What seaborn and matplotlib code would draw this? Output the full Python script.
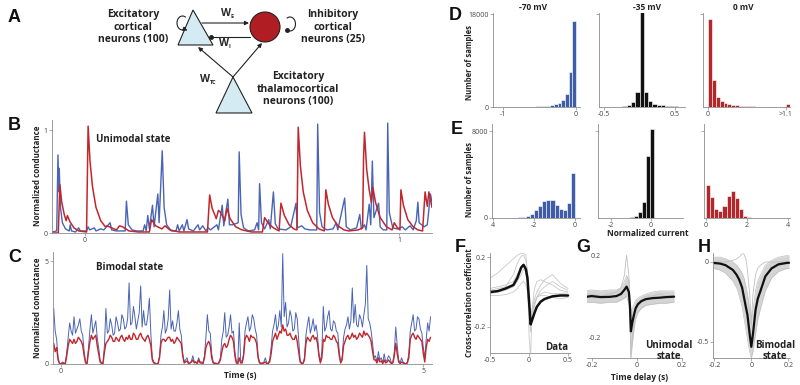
import numpy as np
import pandas as pd
import matplotlib.pyplot as plt
import seaborn as sns
from matplotlib.patches import Polygon, Circle, FancyArrowPatch, Arc

sns.set_theme(style="ticks")
plt.rcParams['font.family'] = ['Open Sans', 'DejaVu Sans']

W, H = 800, 385
BLUE = '#4a64b4'
RED = '#c1272d'
GREY = '#8c8c8c'

# ---------------- data ----------------
# B: unimodal state, (time s, normalized conductance)
b_blue = [(-0.105, 0.01), (-0.090, 0.02), (-0.086, 0.76), (-0.083, 0.40), (-0.082, 0.63), (-0.078, 0.25),
          (-0.072, 0.10), (-0.062, 0.04), (-0.050, 0.02), (-0.047, 0.08), (-0.043, 0.02), (-0.030, 0.01),
          (-0.020, 0.05), (-0.015, 0.02), (0.005, 0.02), (0.010, 0.06), (0.015, 0.03), (0.030, 0.05),
          (0.035, 0.02), (0.050, 0.04), (0.060, 0.03), (0.080, 0.10), (0.085, 0.03), (0.100, 0.02),
          (0.128, 0.02), (0.132, 0.31), (0.138, 0.08), (0.150, 0.03), (0.165, 0.02), (0.185, 0.02),
          (0.190, 0.08), (0.195, 0.02), (0.200, 0.17), (0.205, 0.04), (0.215, 0.27), (0.220, 0.06),
          (0.232, 0.38), (0.236, 0.10), (0.246, 0.80), (0.252, 0.25), (0.260, 0.08), (0.275, 0.02),
          (0.290, 0.02), (0.295, 0.08), (0.300, 0.02), (0.310, 0.08), (0.315, 0.02), (0.325, 0.13),
          (0.330, 0.04), (0.345, 0.02), (0.360, 0.08), (0.365, 0.03), (0.375, 0.07), (0.385, 0.02),
          (0.392, 0.05), (0.400, 0.03), (0.420, 0.08), (0.425, 0.03), (0.437, 0.27), (0.442, 0.07),
          (0.455, 0.33), (0.460, 0.08), (0.470, 0.08), (0.488, 0.10), (0.491, 0.79), (0.497, 0.18),
          (0.505, 0.05), (0.520, 0.02), (0.540, 0.03), (0.548, 0.10), (0.553, 0.03), (0.556, 0.48),
          (0.562, 0.10), (0.572, 0.04), (0.585, 0.13), (0.590, 0.04), (0.600, 0.40), (0.606, 0.09),
          (0.615, 0.04), (0.640, 0.03), (0.655, 0.06), (0.672, 0.29), (0.676, 0.05), (0.690, 0.07),
          (0.700, 0.04), (0.715, 0.03), (0.738, 0.03), (0.741, 1.06), (0.747, 0.20), (0.755, 0.06),
          (0.770, 0.03), (0.790, 0.04), (0.800, 0.10), (0.805, 0.03), (0.827, 0.34), (0.832, 0.06),
          (0.845, 0.03), (0.865, 0.05), (0.875, 0.18), (0.880, 0.04), (0.890, 0.08), (0.895, 0.03),
          (0.905, 0.28), (0.910, 0.08), (0.915, 0.70), (0.920, 0.15), (0.935, 0.29), (0.940, 0.06),
          (0.950, 0.03), (0.961, 0.03), (0.964, 1.07), (0.969, 0.20), (0.980, 0.05), (0.995, 0.04),
          (1.010, 0.06), (1.020, 0.03), (1.035, 0.07), (1.045, 0.03), (1.055, 0.12), (1.060, 0.30),
          (1.064, 0.10), (1.080, 0.06), (1.090, 0.08), (1.100, 0.38), (1.105, 0.30)]
b_red = [(-0.105, 0.0), (-0.085, 0.0), (-0.080, 0.47), (-0.074, 0.30), (-0.066, 0.18), (-0.060, 0.12),
         (-0.056, 0.17), (-0.048, 0.11), (-0.035, 0.05), (-0.020, 0.02), (0.005, 0.01), (0.010, 1.04),
         (0.016, 0.70), (0.024, 0.45), (0.035, 0.25), (0.050, 0.12), (0.065, 0.06), (0.070, 0.07),
         (0.085, 0.05), (0.100, 0.03), (0.110, 0.07), (0.120, 0.06), (0.140, 0.02), (0.170, 0.01),
         (0.205, 0.01), (0.212, 0.13), (0.225, 0.07), (0.245, 0.04), (0.255, 0.07), (0.270, 0.03),
         (0.300, 0.01), (0.390, 0.01), (0.397, 0.37), (0.405, 0.24), (0.418, 0.14), (0.425, 0.22),
         (0.432, 0.20), (0.445, 0.12), (0.452, 0.24), (0.462, 0.14), (0.480, 0.06), (0.500, 0.03),
         (0.530, 0.01), (0.565, 0.01), (0.572, 0.15), (0.585, 0.09), (0.600, 0.05), (0.618, 0.02),
         (0.624, 0.29), (0.635, 0.17), (0.650, 0.08), (0.665, 0.04), (0.675, 0.03), (0.679, 1.03),
         (0.686, 0.65), (0.695, 0.40), (0.708, 0.22), (0.725, 0.10), (0.745, 0.04), (0.762, 0.02),
         (0.767, 0.42), (0.775, 0.28), (0.788, 0.15), (0.805, 0.07), (0.825, 0.03), (0.840, 0.02),
         (0.870, 0.03), (0.884, 0.05), (0.887, 0.72), (0.890, 0.98), (0.897, 0.62), (0.905, 0.42),
         (0.912, 0.30), (0.917, 0.44), (0.925, 0.30), (0.940, 0.15), (0.960, 0.06), (0.978, 0.03),
         (0.985, 0.10), (0.995, 0.05), (1.003, 0.03), (1.006, 0.42), (1.014, 0.27), (1.028, 0.13),
         (1.045, 0.06), (1.060, 0.03), (1.075, 0.02), (1.083, 0.40), (1.090, 0.26), (1.095, 0.40),
         (1.105, 0.25)]

# C: bimodal state, sampled every 20 ms from t = -0.1 s
c_t0, c_dt = -0.10, 0.02
c_blue = [2.7, 1.6, 1.2, 0.3, 0.05, 0.0, 0.1, 0.05, 0.05, 0.6,
          1.3, 2.0, 1.6, 1.4, 2.3, 1.5, 1.7, 1.9, 2.2, 1.6,
          1.4, 0.6, 0.1, 0.05, 0.8, 1.7, 2.4, 1.5, 1.8, 2.1,
          1.3, 0.8, 0.2, 0.05, 0.05, 0.9, 2.7, 1.5, 1.6, 2.2,
          1.9, 1.4, 1.5, 2.3, 2.0, 1.6, 1.7, 2.4, 2.2, 1.7,
          1.8, 2.2, 3.95, 1.9, 2.0, 2.8, 2.3, 1.7, 2.1, 2.5,
          3.8, 1.8, 2.6, 1.9, 1.9, 2.4, 3.2, 1.5, 0.3, 0.1,
          0.05, 0.0, 0.05, 0.4, 1.4, 1.8, 2.6, 1.5, 1.7, 2.2,
          3.6, 1.7, 2.1, 1.6, 1.6, 2.0, 2.6, 1.7, 1.4, 0.5,
          0.1, 0.2, 0.3, 0.05, 0.05, 0.15, 0.4, 0.1, 0.1, 0.05,
          0.3, 0.1, 0.1, 0.05, 0.4, 1.3, 2.4, 1.6, 1.5, 0.5,
          0.1, 0.05, 0.05, 0.0, 0.1, 0.3, 1.2, 1.6, 2.5, 1.3,
          1.4, 1.8, 2.4, 1.5, 1.6, 0.6, 0.1, 0.05, 2.0, 0.2,
          0.1, 0.5, 1.6, 2.0, 2.3, 1.6, 1.8, 2.4, 2.2, 1.7,
          1.4, 0.4, 0.1, 0.05, 0.05, 0.1, 0.3, 0.05, 0.05, 0.2,
          0.8, 1.6, 1.9, 2.4, 1.6, 1.9, 2.6, 1.8, 5.37, 2.3,
          3.0, 1.8, 2.0, 2.6, 2.3, 1.6, 1.7, 2.5, 2.2, 1.2,
          0.2, 0.05, 0.05, 0.3, 1.4, 1.9, 2.3, 1.5, 1.8, 2.2,
          1.6, 1.9, 1.4, 0.5, 0.1, 0.6, 2.8, 1.6, 1.8, 2.3,
          2.6, 1.7, 1.6, 2.1, 2.0, 1.6, 1.5, 0.6, 0.1, 0.3,
          1.3, 1.7, 1.9, 2.3, 1.7, 2.1, 3.7, 2.0, 2.9, 1.9,
          1.8, 2.4, 2.2, 1.8, 2.4, 2.9, 4.8, 2.2, 2.0, 1.6,
          1.0, 0.3, 0.4, 0.1, 0.6, 0.2, 0.3, 0.05, 0.5, 0.1,
          0.2, 0.4, 0.3, 0.05, 0.1, 0.6, 1.8, 0.9, 0.2, 0.05,
          0.3, 0.1, 0.05, 0.0, 0.1, 0.5, 1.6, 2.0, 2.4, 1.6,
          1.7, 2.3, 2.2, 1.7, 1.5, 0.8, 0.3, 1.2, 2.0, 1.6,
          2.3]
c_red = [1.0, 0.6, 0.8, 0.2, 0.02, 0.0, 0.05, 0.02, 0.02, 0.4,
         0.9, 1.2, 1.1, 1.0, 1.2, 1.0, 1.1, 1.3, 1.2, 1.1,
         0.9, 0.4, 0.05, 0.02, 0.6, 1.1, 1.4, 1.2, 1.3, 1.4,
         0.9, 0.5, 0.1, 0.02, 0.02, 0.6, 1.0, 1.1, 1.2, 1.4,
         1.3, 1.1, 1.1, 1.3, 1.2, 1.1, 1.3, 1.4, 1.2, 1.1,
         1.3, 1.2, 1.4, 1.2, 1.2, 1.5, 1.4, 1.2, 1.2, 1.4,
         1.5, 1.3, 1.2, 1.1, 1.3, 1.4, 1.2, 0.9, 0.2, 0.05,
         0.02, 0.0, 0.02, 0.3, 1.0, 1.2, 1.2, 1.1, 1.2, 1.3,
         1.3, 1.1, 1.2, 1.0, 1.1, 1.3, 1.2, 1.1, 1.0, 0.4,
         0.05, 0.1, 0.15, 0.02, 0.05, 0.1, 0.2, 0.05, 0.1, 0.02,
         0.2, 0.05, 0.05, 0.02, 0.3, 0.8, 1.0, 1.1, 0.9, 0.3,
         0.05, 0.02, 0.02, 0.0, 0.05, 0.2, 0.6, 0.9, 1.0, 0.8,
         0.9, 1.2, 1.4, 1.3, 1.1, 0.4, 0.05, 0.02, 0.3, 0.05,
         0.05, 0.4, 1.2, 1.4, 1.3, 1.1, 1.4, 1.3, 1.3, 1.2,
         1.0, 0.3, 0.05, 0.02, 0.02, 0.05, 0.1, 0.02, 0.02, 0.1,
         0.5, 1.1, 1.3, 1.5, 1.2, 1.4, 1.6, 1.5, 1.9, 1.6,
         1.7, 1.4, 1.4, 1.5, 1.3, 1.2, 1.2, 1.4, 1.1, 0.6,
         0.1, 0.02, 0.02, 0.2, 1.0, 1.3, 1.2, 1.1, 1.3, 1.4,
         1.2, 1.3, 1.0, 0.4, 0.05, 0.3, 1.2, 1.1, 1.4, 1.3,
         1.3, 1.2, 1.2, 1.4, 1.3, 1.1, 1.0, 0.4, 0.05, 0.2,
         0.9, 1.1, 1.3, 1.4, 1.2, 1.3, 1.5, 1.3, 1.4, 1.2,
         1.3, 1.5, 1.4, 1.3, 1.6, 1.4, 1.5, 1.4, 1.3, 1.1,
         0.6, 0.2, 0.2, 0.05, 0.3, 0.1, 0.15, 0.02, 0.2, 0.05,
         0.1, 0.2, 0.1, 0.02, 0.05, 0.4, 1.0, 0.5, 0.1, 0.02,
         0.1, 0.05, 0.02, 0.0, 0.05, 0.3, 1.2, 1.4, 1.5, 1.3,
         1.2, 1.4, 1.3, 1.2, 1.1, 0.5, 0.1, 0.8, 1.2, 1.1,
         1.3]

# D: conductance histograms (bin edges, counts)
d70_edges = [-1.05, -1.0, -0.95, -0.9, -0.85, -0.8, -0.75, -0.7, -0.65, -0.6, -0.55,
             -0.5, -0.45, -0.4, -0.35, -0.3, -0.25, -0.2, -0.15, -0.1, -0.05, 0.0]
d70_counts = [4, 5, 8, 10, 15, 20, 25, 35, 50, 70, 100, 140, 200, 280, 400, 550, 850, 1450, 2600, 6800, 16600]
d35_edges = [-0.54, -0.48, -0.42, -0.36, -0.30, -0.24, -0.18, -0.12, -0.06, 0.0,
             0.06, 0.12, 0.18, 0.24, 0.30, 0.36, 0.42, 0.48, 0.54]
d35_counts = [10, 15, 25, 40, 60, 120, 325, 975, 2900, 18500, 2900, 1100, 650, 450, 325, 200, 150, 100]
d0_edges = [0.0, 0.055, 0.11, 0.165, 0.22, 0.275, 0.33, 0.385, 0.44, 0.495, 0.55,
            0.605, 0.66, 0.715, 0.77, 0.825, 0.88, 0.935, 0.99, 1.045, 1.1, 1.155]
d0_counts = [17100, 5200, 1950, 1100, 780, 580, 450, 320, 250, 190, 150, 120, 90, 70, 55, 45, 35, 30, 25, 20, 500]

# E: current histograms
e70_edges = [-4.0, -3.8, -3.6, -3.4, -3.2, -3.0, -2.8, -2.6, -2.4, -2.2, -2.0,
             -1.8, -1.6, -1.4, -1.2, -1.0, -0.8, -0.6, -0.4, -0.2, 0.0]
e70_counts = [5, 8, 10, 15, 20, 30, 50, 90, 215, 370, 710, 1080, 1540, 1690, 1690, 1230, 830, 770, 1380, 4150]
e35_edges = [-2.65, -2.45, -2.25, -2.05, -1.85, -1.65, -1.45, -1.25, -1.05, -0.85, -0.65, -0.45, -0.25, -0.05, 0.15]
e35_counts = [3, 4, 5, 8, 12, 18, 28, 45, 80, 160, 525, 1450, 5690, 8200]
e0_edges = [0.0, 0.2, 0.4, 0.6, 0.8, 1.0, 1.2, 1.4, 1.6, 1.8, 2.0, 2.2, 2.4, 2.6]
e0_counts = [3080, 1900, 830, 680, 1140, 2060, 2460, 1820, 830, 215, 60, 20, 8]

# F: data cross-correlations
f_lag = [-0.5, -0.4, -0.3, -0.2, -0.15, -0.1, -0.07, -0.04, -0.02, 0.0,
         0.02, 0.04, 0.07, 0.1, 0.15, 0.2, 0.3, 0.4, 0.5]
f_mean = [0.0, 0.005, 0.02, 0.04, 0.08, 0.14, 0.155, 0.13, 0.08, -0.05,
          -0.185, -0.16, -0.12, -0.085, -0.055, -0.04, -0.025, -0.02, -0.02]
f_cells = [
    [0.08, 0.11, 0.15, 0.19, 0.21, 0.22, 0.22, 0.21, 0.10, -0.25, -0.37, -0.10, 0.02, 0.06, 0.07, 0.06, 0.04, 0.01, 0.0],
    [0.01, 0.02, 0.03, 0.10, 0.165, 0.205, 0.21, 0.18, 0.12, -0.10, -0.23, -0.16, -0.08, -0.03, 0.01, 0.03, 0.06, 0.03, 0.01],
    [-0.01, 0.0, 0.01, 0.03, 0.06, 0.10, 0.13, 0.12, 0.05, -0.08, -0.20, -0.14, -0.07, -0.03, -0.01, 0.0, -0.01, -0.01, -0.005],
    [-0.02, -0.02, -0.015, 0.0, 0.02, 0.05, 0.06, 0.04, 0.0, -0.10, -0.14, -0.09, -0.04, 0.0, 0.04, 0.07, 0.10, 0.05, 0.02],
    [0.02, 0.03, 0.04, 0.06, 0.10, 0.15, 0.16, 0.10, 0.05, -0.12, -0.18, -0.12, -0.06, -0.03, -0.02, -0.02, -0.03, -0.04, -0.03],
]

# G: unimodal model cross-correlations
g_lag = [-0.23, -0.20, -0.16, -0.12, -0.09, -0.07, -0.055, -0.045, -0.035, -0.03, -0.026,
         -0.02, -0.012, -0.005, 0.005, 0.02, 0.04, 0.07, 0.10, 0.13, 0.165]
g_mean = [-0.005, 0.0, -0.005, -0.004, 0.0, 0.01, 0.03, 0.046, 0.02, -0.05, -0.172,
          -0.13, -0.09, -0.06, -0.04, -0.025, -0.015, -0.01, -0.008, -0.005, -0.003]
g_lo = [-0.03, -0.03, -0.035, -0.03, -0.03, -0.02, -0.01, 0.0, -0.04, -0.12, -0.30,
        -0.24, -0.16, -0.11, -0.08, -0.06, -0.045, -0.04, -0.035, -0.035, -0.03]
g_hi = [0.025, 0.03, 0.025, 0.03, 0.03, 0.04, 0.07, 0.10, 0.08, 0.0, -0.08,
        -0.06, -0.04, -0.02, -0.01, 0.0, 0.01, 0.02, 0.025, 0.025, 0.025]
g_out = [0.0, 0.01, 0.0, 0.01, 0.02, 0.04, 0.10, 0.20, 0.10, -0.10, -0.30,
         -0.20, -0.10, -0.05, -0.03, -0.02, 0.0, 0.0, 0.01, 0.0, 0.0]

# H: bimodal model cross-correlations
h_lag = [-0.205, -0.17, -0.14, -0.1, -0.08, -0.066, -0.05, -0.04, -0.03, -0.021, -0.009,
         0.0, 0.009, 0.023, 0.035, 0.05, 0.076, 0.11, 0.147, 0.192, 0.205]
h_mean = [-0.006, -0.01, -0.02, -0.05, -0.08, -0.11, -0.16, -0.22, -0.28, -0.33, -0.45,
          -0.53, -0.45, -0.30, -0.23, -0.18, -0.09, -0.04, -0.015, -0.006, -0.005]
h_lo = [-0.04, -0.05, -0.07, -0.12, -0.16, -0.21, -0.28, -0.35, -0.42, -0.48, -0.56,
        -0.60, -0.56, -0.45, -0.36, -0.29, -0.18, -0.10, -0.06, -0.04, -0.04]
h_hi = [0.03, 0.03, 0.02, 0.0, -0.02, -0.04, -0.07, -0.10, -0.15, -0.20, -0.30,
        -0.40, -0.30, -0.18, -0.12, -0.08, -0.02, 0.01, 0.03, 0.04, 0.04]
h_out = [0.0, 0.0, 0.0, 0.01, 0.02, 0.03, 0.05, 0.05, 0.02, -0.05, -0.20,
         -0.38, -0.20, -0.08, -0.04, -0.02, 0.0, 0.0, 0.0, 0.0, 0.0]


# ---------------- helpers ----------------
def box(x0, y0, x1, y1):
    return [x0 / W, 1 - y1 / H, (x1 - x0) / W, (y1 - y0) / H]


def ftext(x, y, s, **kw):
    fig.text(x / W, 1 - y / H, s, **kw)


def style(ax, xt, xl, yt, yl):
    sns.despine(ax=ax)
    for s in ['left', 'bottom']:
        ax.spines[s].set_color(GREY)
        ax.spines[s].set_linewidth(0.6)
    ax.tick_params(length=2, width=0.5, colors=GREY, labelcolor='#444444', labelsize=5, pad=1)
    ax.set_xticks(xt)
    ax.set_xticklabels(xl)
    ax.set_yticks(yt)
    ax.set_yticklabels(yl)
    ax.set_xlabel('')
    ax.set_ylabel('')
    ax.patch.set_alpha(0)


def hist(ax, edges, counts, color):
    centers = [(a + b) / 2 for a, b in zip(edges[:-1], edges[1:])]
    sns.histplot(x=centers, weights=counts, bins=edges, ax=ax, color=color,
                 edgecolor='white', linewidth=0.4, alpha=1)


fig = plt.figure(figsize=(8, 3.85), dpi=100)

# ---------------- A: circuit diagram ----------------
axA = fig.add_axes(box(0, 0, 400, 115))
axA.set_xlim(0, 400)
axA.set_ylim(115, 0)
axA.axis('off')
axA.add_patch(Polygon([(193, 10), (178, 45), (213, 45)], closed=True, fc='#d4ebf4', ec='#222222', lw=0.8))
axA.add_patch(Polygon([(233, 77), (216, 113), (252, 113)], closed=True, fc='#d4ebf4', ec='#222222', lw=0.8))
axA.add_patch(Circle((265, 27), 15, fc='#b01e24', ec='#222222', lw=0.8))
arr = dict(arrowstyle='-|>', mutation_scale=6, lw=0.8, color='#222222', shrinkA=0, shrinkB=0)
axA.add_patch(FancyArrowPatch((202, 23), (249, 23), **arr))
axA.add_patch(FancyArrowPatch((233, 77), (198, 47), **arr))
axA.add_patch(FancyArrowPatch((233, 77), (262, 43), **arr))
axA.plot([250, 211], [37, 37], color='#222222', lw=0.8)
axA.plot([211], [37], 'o', color='#222222', ms=2.5)
axA.add_patch(Arc((182.5, 23), 11, 14, theta1=60, theta2=300, color='#222222', lw=0.8))
axA.add_patch(FancyArrowPatch((184.5, 29.2), (187.5, 30.5), **arr))
axA.add_patch(Arc((290, 24), 11, 14, theta1=-120, theta2=120, color='#222222', lw=0.8))
axA.plot([287.3], [30.1], 'o', color='#222222', ms=2.5)
lab = dict(fontsize=7.5, fontweight='bold', ha='center', va='center', color='#222222', linespacing=1.15)
axA.text(133, 27, 'Excitatory\ncortical\nneurons (100)', **lab)
axA.text(333, 27, 'Inhibitory\ncortical\nneurons (25)', **lab)
axA.text(298, 89, 'Excitatory\nthalamocortical\nneurons (100)', **lab)
axA.text(226, 13, 'W', fontsize=7.5, fontweight='bold', ha='center', va='center')
axA.text(232, 16, 'E', fontsize=4, fontweight='bold', ha='center', va='center')
axA.text(224, 43, 'W', fontsize=7.5, fontweight='bold', ha='center', va='center')
axA.text(229.5, 46, 'I', fontsize=4, fontweight='bold', ha='center', va='center')
axA.text(205, 80, 'W', fontsize=7.5, fontweight='bold', ha='center', va='center')
axA.text(213, 83, 'TC', fontsize=4, fontweight='bold', ha='center', va='center')

# ---------------- B ----------------
axB = fig.add_axes(box(52, 120, 432, 233))
dfb = pd.DataFrame(b_blue, columns=['t', 'g'])
dfr = pd.DataFrame(b_red, columns=['t', 'g'])
sns.lineplot(data=dfb, x='t', y='g', ax=axB, color=BLUE, lw=1.0, estimator=None)
sns.lineplot(data=dfr, x='t', y='g', ax=axB, color=RED, lw=1.1, estimator=None)
axB.set_xlim(-0.105, 1.105)
axB.set_ylim(0, 1.1)
style(axB, [0, 1], ['0', '1'], [0, 1], ['0', '1'])

# ---------------- C ----------------
axC = fig.add_axes(box(53, 252, 432, 364))
ct = c_t0 + c_dt * np.arange(len(c_blue))
dfc = pd.DataFrame({'t': ct, 'blue': c_blue, 'red': c_red})
sns.lineplot(data=dfc, x='t', y='blue', ax=axC, color=BLUE, lw=0.7, estimator=None)
sns.lineplot(data=dfc, x='t', y='red', ax=axC, color=RED, lw=1.0, estimator=None)
axC.set_xlim(-0.11, 5.12)
axC.set_ylim(0, 5.45)
style(axC, [0, 5], ['0', '5'], [0, 5], ['0', '5'])

bold = dict(fontweight='bold', color='#222222')
ftext(133, 140, 'Unimodal state', fontsize=7, ha='center', va='center', **bold)
ftext(130, 267, 'Bimodal state', fontsize=7, ha='center', va='center', **bold)
ftext(37, 176, 'Normalized conductance', fontsize=5.8, rotation=90, ha='center', va='center', **bold)
ftext(37, 308, 'Normalized conductance', fontsize=5.8, rotation=90, ha='center', va='center', **bold)
ftext(240, 376, 'Time (s)', fontsize=6, ha='center', va='center', **bold)

# ---------------- D ----------------
axD1 = fig.add_axes(box(493, 13, 580, 107))
axD2 = fig.add_axes(box(599, 13, 685, 107))
axD3 = fig.add_axes(box(703, 13, 790, 107))
hist(axD1, d70_edges, d70_counts, '#3f5ca8')
hist(axD2, d35_edges, d35_counts, '#111111')
hist(axD3, d0_edges, d0_counts, '#b5262b')
for ax, lim in [(axD1, (-1.137, 0.055)), (axD2, (-0.57, 0.64)), (axD3, (-0.07, 1.157))]:
    ax.set_xlim(*lim)
    ax.set_ylim(0, 18200)
style(axD1, [-1, 0], ['-1', '0'], [0, 18000], ['0', '18000'])
style(axD2, [-0.5, 0.5], ['-0.5', '0.5'], [18000], [''])
style(axD3, [0, 1.1], ['0', '>1.1'], [18000], [''])
ftext(533, 7, '-70 mV', fontsize=6, ha='center', va='center', **bold)
ftext(647, 7, '-35 mV', fontsize=6, ha='center', va='center', **bold)
ftext(743, 7, '0 mV', fontsize=6, ha='center', va='center', **bold)
ftext(470, 62, 'Number of samples', fontsize=5.5, rotation=90, ha='center', va='center', **bold)

# ---------------- E ----------------
axE1 = fig.add_axes(box(492, 124, 580, 218))
axE2 = fig.add_axes(box(598, 124, 683, 218))
axE3 = fig.add_axes(box(704, 124, 790, 218))
hist(axE1, e70_edges, e70_counts, '#3f5ca8')
hist(axE2, e35_edges, e35_counts, '#111111')
hist(axE3, e0_edges, e0_counts, '#b5262b')
for ax, lim in [(axE1, (-4.05, 0.24)), (axE2, (-2.65, 1.6)), (axE3, (-0.1, 4.1))]:
    ax.set_xlim(*lim)
    ax.set_ylim(0, 8680)
style(axE1, [-4, -2, 0], ['4', '-2', '0'], [0, 8000], ['0', '8000'])
style(axE2, [-2, 0], ['-2', '0'], [8000], [''])
style(axE3, [0, 2, 4], ['0', '2', '4'], [8000], [''])
ftext(470, 180, 'Number of samples', fontsize=5.5, rotation=90, ha='center', va='center', **bold)
ftext(648, 233, 'Normalized current', fontsize=6, ha='center', va='center', **bold)

# ---------------- F ----------------
axF = fig.add_axes(box(490, 253, 570, 353))
for cell in f_cells:
    sns.lineplot(x=f_lag, y=cell, ax=axF, color='#c8c8c8', lw=0.6, estimator=None)
sns.lineplot(x=f_lag, y=f_mean, ax=axF, color='#111111', lw=1.8, estimator=None)
axF.set_xlim(-0.5, 0.525)
axF.set_ylim(-0.349, 0.223)
style(axF, [-0.5, 0, 0.5], ['-0.5', '0', '0.5'], [-0.2, 0.2], ['-0.2', '0.2'])
ftext(470, 303, 'Cross-correlation coefficient', fontsize=5.5, rotation=90, ha='center', va='center', **bold)
ftext(557, 348, 'Data', fontsize=7, ha='center', va='center', **bold)

# ---------------- G ----------------
axG = fig.add_axes(box(587, 253, 682, 358))
axG.fill_between(g_lag, g_lo, g_hi, color='#d4d4d4', lw=0)
sns.lineplot(x=g_lag, y=g_lo, ax=axG, color='#c0c0c0', lw=0.5, estimator=None)
sns.lineplot(x=g_lag, y=g_hi, ax=axG, color='#c0c0c0', lw=0.5, estimator=None)
sns.lineplot(x=g_lag, y=g_out, ax=axG, color='#c0c0c0', lw=0.6, estimator=None)
sns.lineplot(x=g_lag, y=g_mean, ax=axG, color='#111111', lw=1.6, estimator=None)
axG.set_xlim(-0.22, 0.18)
axG.set_ylim(-0.302, 0.21)
style(axG, [-0.2, 0, 0.2], ['-0.2', '0', '0.2'], [-0.2, 0.2], ['-0.2', '0.2'])
axG.spines['left'].set_visible(False)
axG.tick_params(axis='y', length=0, pad=-10)
ftext(640, 377, 'Time delay (s)', fontsize=6, ha='center', va='center', **bold)
ftext(669, 351, 'Unimodal\nstate', fontsize=7, ha='center', va='center', linespacing=0.95, **bold)

# ---------------- H ----------------
axH = fig.add_axes(box(713, 253, 790, 358))
axH.fill_between(h_lag, h_lo, h_hi, color='#d4d4d4', lw=0)
sns.lineplot(x=h_lag, y=h_lo, ax=axH, color='#c0c0c0', lw=0.5, estimator=None)
sns.lineplot(x=h_lag, y=h_hi, ax=axH, color='#c0c0c0', lw=0.5, estimator=None)
sns.lineplot(x=h_lag, y=h_out, ax=axH, color='#c0c0c0', lw=0.6, estimator=None)
sns.lineplot(x=h_lag, y=h_mean, ax=axH, color='#111111', lw=1.6, estimator=None)
axH.set_xlim(-0.208, 0.21)
axH.set_ylim(-0.6, 0.056)
style(axH, [-0.2, 0, 0.2], ['-0.2', '0', '0.2'], [-0.5, 0], ['-0.5', '0'])
ftext(775, 351, 'Bimodal\nstate', fontsize=7, ha='center', va='center', linespacing=0.95, **bold)

# ---------------- panel letters ----------------
letter = dict(fontsize=13, fontweight='bold', family=['Liberation Sans', 'DejaVu Sans'],
              ha='left', va='center', color='#111111')
for s, x, y in [('A', 8, 17), ('B', 8, 125), ('C', 8, 257), ('D', 449, 15),
                ('E', 451, 130), ('F', 455, 248), ('G', 576, 248), ('H', 698, 248)]:
    ftext(x, y, s, **letter)

fig.savefig('out.png', dpi=100)
